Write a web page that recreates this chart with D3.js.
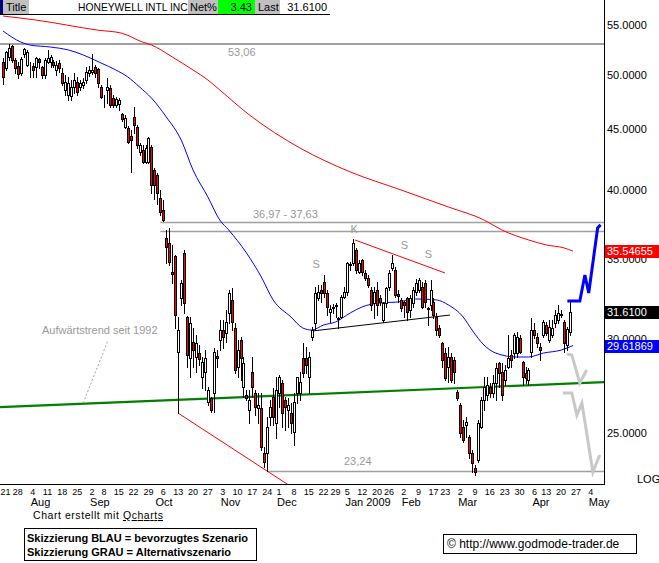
<!DOCTYPE html>
<html><head><meta charset="utf-8">
<script src="https://cdn.jsdelivr.net/npm/d3@7"></script>
<style>
body{margin:0;background:#fff;}
svg{display:block;font-family:"Liberation Sans",Arial,sans-serif;}
</style></head>
<body><svg id="c" width="659" height="563"></svg>
<script>
// ---------- DATA (daily candles, 21 Jul 2008 - 24 Apr 2009) ----------
const openP = [51.25,50.66,51.75,52.86,51.45,50.85,50.17,52.05,50.95,51.15,
50.85,50.75,51.55,50.75,49.98,51.25,51.25,51.25,50.46,51.15,
50.17,48.55,48.08,47.99,48.83,49.31,48.83,49.02,49.50,50.17,
50.27,50.75,50.56,48.83,47.80,48.55,48.74,47.80,47.16,47.25,
46.35,45.19,45.10,44.41,46.08,45.19,43.06,43.23,42.24,42.24,
43.48,41.59,41.19,39.40,38.50,
36.47,36.12,34.15,35.22,29.25,32.47,35.43,31.30,28.91,29.82,
28.97,29.19,27.87,28.14,26.55,26.76,27.02,29.02,29.94,30.52,
30.34,31.55,32.35,30.64,28.41,29.94,27.34,26.91,26.14,28.14,
27.02,26.24,26.24,24.06,24.06,25.79,26.81,25.49,27.02,27.55,
26.65,26.14,25.99,25.05,27.02,27.02,28.91,28.91,27.87,30.11,
30.94,32.47,32.98,33.49,32.79,31.61,31.85,31.98,31.18,31.30,
32.54,32.85,34.68,34.75,35.63,34.15,34.95,34.08,33.75,32.98,32.16,
32.98,32.47,31.12,32.16,33.17,34.41,34.28,32.73,32.35,
32.22,32.47,31.73,32.16,32.85,32.98,33.17,33.43,31.85,32.04,
32.22,31.30,30.64,29.77,29.19,28.41,28.97,28.80,27.07,26.40,
25.30,25.40,24.82,24.06,23.37,23.74,25.30,26.65,26.91,27.34,
27.02,27.55,28.63,28.14,27.71,28.41,29.08,29.19,29.19,30.05,
28.69,28.09,27.71,29.25,30.52,30.11,29.54,30.23,30.82,
29.94,30.23,30.94,31.12,31.49,31.00,29.65,30.40];
const highP = [51.65,52.35,53.06,52.96,51.65,51.25,51.75,52.65,52.45,51.25,
51.15,51.75,51.65,50.85,51.65,52.45,51.95,51.45,51.35,51.45,
50.66,49.98,49.79,49.50,50.17,49.79,49.50,49.69,50.75,50.85,
52.05,50.95,50.66,49.02,48.08,49.69,49.02,48.08,47.90,47.80,
46.44,46.26,45.28,44.94,46.98,45.37,43.82,43.65,43.65,44.33,
43.65,41.75,41.35,40.02,39.25,
37.04,37.18,35.98,35.29,31.30,33.62,35.63,31.36,31.30,30.64,
30.23,29.65,28.97,29.36,27.34,26.81,29.48,29.36,31.12,31.12,
31.73,32.98,33.11,30.94,29.94,30.11,28.97,27.18,27.18,28.97,
27.18,27.02,27.02,24.34,25.79,26.65,27.28,27.87,27.98,27.71,
26.81,26.76,26.50,27.02,27.87,28.14,29.77,29.54,29.25,30.70,
33.17,33.30,33.30,33.95,32.98,32.04,32.10,32.16,31.30,32.66,
33.17,34.81,34.81,36.40,35.77,34.95,35.02,34.28,33.95,33.17,33.17,
33.49,32.66,32.22,33.17,34.28,35.29,34.48,32.98,32.47,
32.30,32.54,32.66,33.17,33.69,33.75,33.49,33.62,31.92,33.62,
32.47,31.55,30.82,29.85,29.48,29.54,29.19,28.97,27.18,26.50,
25.64,25.79,24.91,24.20,23.51,25.64,26.81,27.87,27.87,27.55,
27.98,28.63,28.69,28.63,28.52,30.23,29.36,30.34,30.40,30.23,
28.75,28.41,28.36,31.24,30.94,30.34,29.77,31.12,31.00,
31.12,31.12,31.73,32.04,31.73,31.12,30.70,32.22];
const lowP = [49.12,50.46,51.45,51.25,50.17,49.69,49.98,51.75,50.85,49.79,
49.79,49.79,50.66,49.69,49.69,51.15,50.75,50.75,49.98,50.27,
49.02,48.08,47.62,47.62,48.27,48.08,48.55,48.74,49.21,49.88,
50.08,49.79,48.83,47.80,46.98,47.34,46.98,46.98,46.98,46.71,
45.72,45.10,43.82,41.43,44.68,43.40,42.82,42.16,42.16,42.16,
39.79,39.33,38.94,38.13,37.69,
34.75,34.61,33.43,30.64,25.99,32.04,31.55,28.41,27.87,28.41,
28.14,28.52,27.28,27.18,26.40,26.04,26.04,28.41,29.36,29.48,
29.82,30.94,30.52,28.09,27.87,27.71,26.81,26.65,25.49,26.81,
25.89,25.49,24.20,23.42,23.24,25.40,25.40,24.77,26.30,25.30,
25.15,25.30,25.01,24.43,26.50,26.65,27.87,28.09,27.02,29.94,
30.52,32.35,32.22,32.54,31.42,31.00,31.55,31.30,30.64,31.24,
32.47,32.66,34.28,34.61,34.08,34.08,33.95,33.62,33.17,31.73,31.24,
31.42,32.04,31.00,31.92,32.98,34.28,32.54,32.22,31.67,
31.30,31.12,31.30,31.92,32.66,32.85,31.85,31.92,30.82,31.73,
31.24,30.23,30.11,28.41,27.71,27.60,27.60,27.55,26.65,24.82,
24.58,24.82,23.83,23.20,23.06,23.65,25.25,26.14,26.65,26.81,
26.81,26.65,27.34,26.65,27.44,28.36,28.41,28.91,28.97,29.19,
27.44,27.55,27.44,28.97,30.05,29.54,28.80,30.11,30.23,
29.82,30.11,30.70,30.94,31.30,29.25,29.36,30.23];
const closeP = [49.79,52.25,52.65,51.45,50.66,50.08,51.55,52.55,52.25,51.10,
50.46,51.65,51.25,49.98,51.45,51.65,51.75,50.95,50.95,50.66,
49.21,49.31,49.21,48.83,49.50,48.36,49.21,49.31,50.27,50.46,
50.46,50.17,49.21,47.90,47.76,48.83,47.16,47.16,47.71,47.62,
45.90,45.99,43.91,44.08,45.37,43.65,43.65,42.24,43.40,44.24,
40.40,40.40,39.79,38.35,37.76,
35.84,34.81,34.02,31.42,30.52,33.43,32.16,29.08,30.94,29.36,
29.77,28.86,28.69,28.91,27.18,26.14,29.25,28.91,30.52,30.11,
31.00,32.79,31.00,28.25,29.36,28.91,28.63,26.76,26.65,27.34,
26.30,26.40,24.34,23.65,25.30,26.30,25.79,27.18,27.87,25.99,
26.30,26.40,25.49,26.55,27.87,27.60,28.09,28.52,28.97,30.52,
32.79,32.85,32.79,32.79,31.92,31.79,31.92,32.02,31.24,32.54,
32.85,34.75,34.61,36.12,34.28,34.75,34.15,33.75,33.30,32.04,32.85,
32.04,32.22,32.16,33.11,34.08,34.75,32.66,32.60,31.85,
32.04,31.61,32.47,32.98,33.43,33.62,31.92,32.22,31.79,32.98,
31.42,30.52,30.23,28.80,27.82,28.97,27.71,28.14,26.76,25.01,
24.67,25.54,24.06,23.60,23.19,25.49,26.65,27.34,27.44,27.02,
27.55,28.36,28.09,26.91,28.25,28.91,28.80,30.23,30.11,29.25,
27.87,27.82,28.25,30.52,30.23,29.77,29.36,31.00,30.34,
30.70,30.64,31.42,31.55,31.42,29.77,30.56,31.61];

// moving averages (candle index, value)
const maBlueIdx = [0,6,9,16,22,27,33,38,42,46,50,55,60,64,69,73,76,82,87,91,97,101,104,108,112,117,121,127,133,139,146,150,155,158,162,166,173,177,182,188,192];
const maBlueVal = [54.41,53.26,52.96,52.75,52.45,51.95,51.15,50.46,49.79,48.83,47.80,46.08,44.08,41.59,39.48,37.76,37.04,35.43,33.82,32.35,31.30,30.64,30.52,30.82,31.00,31.55,31.92,32.16,32.22,32.41,32.35,32.04,31.30,30.52,29.65,29.19,28.97,28.97,29.19,29.36,29.61869];
const maRedIdx = [0,11,32,40,47,50,57,64,69,73,83,100,117,134,150,162,168,177,183,189,192];
const maRedVal = [56.01,55.58,54.50,54.18,53.26,52.96,51.75,50.46,49.50,48.55,46.26,43.40,41.43,40.02,38.72,37.76,37.04,36.33,35.98,35.77,35.54655];

// x-axis labels (trading-day index of each weekly tick)
const dayTickIdx = [0,5,10,15,20,25,30,34,39,44,49,54,59,64,69,74,79,84,89,93,98,103,108,112,116,121,126,130,135,140,145,149,154,159,164,169,174,179,183,188,193,198];
const dayTickLbl = ["21","28","4","11","18","25","2","8","15","22","29","6","13","20","27","3","10","17","24","1","8","15","22","29","5","12","20","26","2","9","17","23","2","9","16","23","30","6","13","20","27","4"];
const monthIdx = [10,30,52,74,93,116,135,154,179,198];
const monthLbl = ["Aug","Sep","Oct","Nov","Dec","Jan 2009","Feb","Mar","Apr","May"];
const priceTicks = [55,50,45,40,35,30,25];

// annotation levels
const levelTop = 53.06, bandHi = 37.63, bandLo = 36.97, levelLow = 23.24;
const lastPrice = 31.61, ma200Last = 35.54655, ma50Last = 29.61869, netPct = 3.43;
const greenTrend = [[-1,26.29],[202.5,27.60]];
const redLowTrend = [[59,25.99],[97,22.55]];
const redTopTrend = [[118.5,36.33],[148.9,34.08]];
const neckline = [[104,30.46],[150.6,31.42]];
const dashedHint = [[27,26.50],[35.4,29.94]];
const blueScenario = [[190.1,32.28],[194.3,32.28],[196.0,33.95],[197.3,32.79],[200.3,37.18],[201.3,37.40]];
const greyScenarioA = [[189.9,29.14],[191.6,29.08],[194.3,27.55],[196.6,28.25]];
const greyScenarioB = [[188.6,27.02],[191.6,27.02],[193.3,25.89],[195.0,26.50],[198.7,23.19],[201.0,23.97]];
const marks = [["S",105.5,34.4],["K",118.3,36.85],["S",135.2,35.7],["S",143.3,35.1]];

// ---------- CHART ----------
const svg = d3.select("#c");
const plotR = 604, plotT = 15, plotB = 484;
const x = d3.scaleLinear().domain([0,192]).range([3,573]);
const y = d3.scaleLog().domain([levelLow, levelTop]).range([471,44]);

const defs = svg.append("defs");
defs.append("clipPath").attr("id","clip")
  .append("rect").attr("x",0).attr("y",plotT).attr("width",plotR).attr("height",plotB-plotT);
const g = svg.append("g").attr("clip-path","url(#clip)");
const grey = "#a0a0a0";

// horizontal levels
g.append("line").attr("x1",0).attr("x2",plotR).attr("y1",y(levelTop)).attr("y2",y(levelTop)).attr("stroke",grey).attr("stroke-width",2);
g.append("line").attr("x1",x(53)).attr("x2",plotR).attr("y1",Math.round(y(bandHi))+0.5).attr("y2",Math.round(y(bandHi))+0.5).attr("stroke",grey).attr("stroke-width",1.3);
g.append("line").attr("x1",x(53)).attr("x2",plotR).attr("y1",Math.round(y(bandLo))+0.5).attr("y2",Math.round(y(bandLo))+0.5).attr("stroke",grey).attr("stroke-width",1.3);
g.append("line").attr("x1",x(89)).attr("x2",plotR).attr("y1",Math.round(y(levelLow))+0.5).attr("y2",Math.round(y(levelLow))+0.5).attr("stroke",grey).attr("stroke-width",1.5);

const lineGen = d3.line().x(d=>x(d[0])).y(d=>y(d[1]));
// moving averages
const mc = d3.line().curve(d3.curveMonotoneX).x(d=>x(d[0])).y(d=>y(d[1]));
g.append("path").attr("d",mc(maRedIdx.map((d,i)=>[d,maRedVal[i]]))).attr("fill","none").attr("stroke","#ff0000").attr("stroke-width",1);
g.append("path").attr("d",mc(maBlueIdx.map((d,i)=>[d,maBlueVal[i]]))).attr("fill","none").attr("stroke","#0000ff").attr("stroke-width",1);

// trend lines
g.append("path").attr("d",lineGen(greenTrend)).attr("stroke","#008000").attr("stroke-width",2.2).attr("fill","none");
g.append("path").attr("d",lineGen(redLowTrend)).attr("stroke","#ff0000").attr("stroke-width",1).attr("fill","none");
g.append("path").attr("d",lineGen(redTopTrend)).attr("stroke","#ff0000").attr("stroke-width",1).attr("fill","none");
g.append("path").attr("d",lineGen(neckline)).attr("stroke","#000").attr("stroke-width",1).attr("fill","none");
g.append("path").attr("d",lineGen(dashedHint)).attr("stroke","#a0a0a0").attr("stroke-width",1).attr("stroke-dasharray","2,2").attr("fill","none");

// candles
const cg = g.append("g");
closeP.forEach((c,i)=>{
  const o = openP[i], h = highP[i], l = lowP[i];
  const cx = Math.round(x(i));
  cg.append("line").attr("x1",cx+0.5).attr("x2",cx+0.5)
    .attr("y1",Math.round(y(h))).attr("y2",Math.round(y(l))+1)
    .attr("stroke","#000").attr("stroke-width",1);
  const top = Math.round(y(Math.max(o,c))), bot = Math.round(y(Math.min(o,c)));
  cg.append("rect").attr("x",cx-0.5).attr("y",top+0.5).attr("width",2).attr("height",Math.max(bot-top,0))
    .attr("fill", c<o ? "#ff0000" : "#ffffff").attr("stroke","#000").attr("stroke-width",1);
});

// scenarios
g.append("path").attr("d",lineGen(greyScenarioA)).attr("stroke","#c8c8c8").attr("stroke-width",3).attr("fill","none");
g.append("path").attr("d",lineGen(greyScenarioB)).attr("stroke","#c8c8c8").attr("stroke-width",3).attr("fill","none");
g.append("path").attr("d",lineGen(blueScenario)).attr("stroke","#0000ff").attr("stroke-width",3).attr("fill","none");

// gray annotation texts
const tg = svg.append("g").attr("fill","#999").attr("font-size","11px");
tg.append("text").attr("x",228).attr("y",y(levelTop)+12).text("53,06");
tg.append("text").attr("x",253).attr("y",y(bandHi)-4).text("36,97 - 37,63");
tg.append("text").attr("x",344).attr("y",y(levelLow)-6).text("23,24");
tg.append("text").attr("x",42).attr("y",334).text("Aufwärtstrend seit 1992");
marks.forEach(m=>tg.append("text").attr("x",x(m[1])).attr("y",y(m[2])).attr("text-anchor","middle").text(m[0]));

// frame
svg.append("line").attr("x1",plotR+0.5).attr("x2",plotR+0.5).attr("y1",0).attr("y2",plotB+1).attr("stroke","#000");
svg.append("line").attr("x1",0).attr("x2",plotR+1).attr("y1",plotB+0.5).attr("y2",plotB+0.5).attr("stroke","#000");

// price axis (labels partly hidden behind the value tags, as in the original)
const ag = svg.append("g").attr("font-size","11px");
priceTicks.forEach(p=>ag.append("text").attr("x",607).attr("y",y(p)+4).text(p.toFixed(4)));
function tag(val, txt, bg){
  const cy = Math.round(y(val));
  ag.append("rect").attr("x",605).attr("y",cy-6).attr("width",54).attr("height",13).attr("fill",bg);
  ag.append("text").attr("x",607).attr("y",cy+4).attr("fill","#fff").text(txt);
}
tag(ma200Last, ma200Last.toFixed(5), "#ff0000");
tag(lastPrice, lastPrice.toFixed(4), "#000000");
tag(ma50Last, ma50Last.toFixed(5), "#0000ff");
ag.append("text").attr("x",637).attr("y",483).text("LOG");

// date axis
const xg = svg.append("g").attr("font-size","9px");
dayTickIdx.forEach((d,i)=>xg.append("text").attr("x",Math.max(x(d),5.5)).attr("y",495).attr("text-anchor","middle").text(dayTickLbl[i]));
const mg = svg.append("g").attr("font-size","11px");
monthIdx.forEach((d,i)=>mg.append("text").attr("x",x(d)-2).attr("y",506).text(monthLbl[i]));

// header
const hg = svg.append("g").attr("font-size","11px");
hg.append("rect").attr("x",0).attr("y",0).attr("width",3).attr("height",14).attr("fill","#000080");
hg.append("rect").attr("x",3).attr("y",0).attr("width",26).attr("height",14).attr("fill","#c0c0c0");
hg.append("rect").attr("x",188).attr("y",0).attr("width",30).attr("height",14).attr("fill","#c0c0c0");
hg.append("rect").attr("x",218).attr("y",0).attr("width",37).attr("height",14).attr("fill","#00ff00");
hg.append("rect").attr("x",255).attr("y",0).attr("width",25).attr("height",14).attr("fill","#c0c0c0");
hg.append("line").attr("x1",0).attr("x2",330).attr("y1",14.5).attr("y2",14.5).attr("stroke","#000");
hg.append("text").attr("x",6).attr("y",11).text("Title");
hg.append("text").attr("x",78).attr("y",11).attr("font-size","10.3px").text("HONEYWELL INTL INC");
hg.append("text").attr("x",190).attr("y",11).text("Net%");
hg.append("text").attr("x",252).attr("y",11).attr("text-anchor","end").text(netPct.toFixed(2));
hg.append("text").attr("x",258).attr("y",11).text("Last");
hg.append("text").attr("x",327).attr("y",11).attr("text-anchor","end").text(lastPrice.toFixed(4));

// footer
const fg = svg.append("g");
const ft = fg.append("text").attr("x",33).attr("y",519).attr("font-size","10.5px").attr("textLength",130).attr("lengthAdjust","spacing");
ft.append("tspan").text("Chart erstellt mit ");
ft.append("tspan").attr("text-decoration","underline").text("Qcharts");
fg.append("rect").attr("x",24.5).attr("y",528.5).attr("width",232).attr("height",32).attr("fill","none").attr("stroke","#000");
fg.append("text").attr("x",27).attr("y",542).attr("font-size","11px").attr("font-weight","bold").text("Skizzierung BLAU = bevorzugtes Szenario");
fg.append("text").attr("x",27).attr("y",556).attr("font-size","11px").attr("font-weight","bold").text("Skizzierung GRAU = Alternativszenario");
fg.append("rect").attr("x",443.5).attr("y",534.5).attr("width",193).attr("height",19).attr("fill","none").attr("stroke","#000");
fg.append("text").attr("x",447).attr("y",548).attr("font-size","12px").text("© http://www.godmode-trader.de");
</script></body></html>
